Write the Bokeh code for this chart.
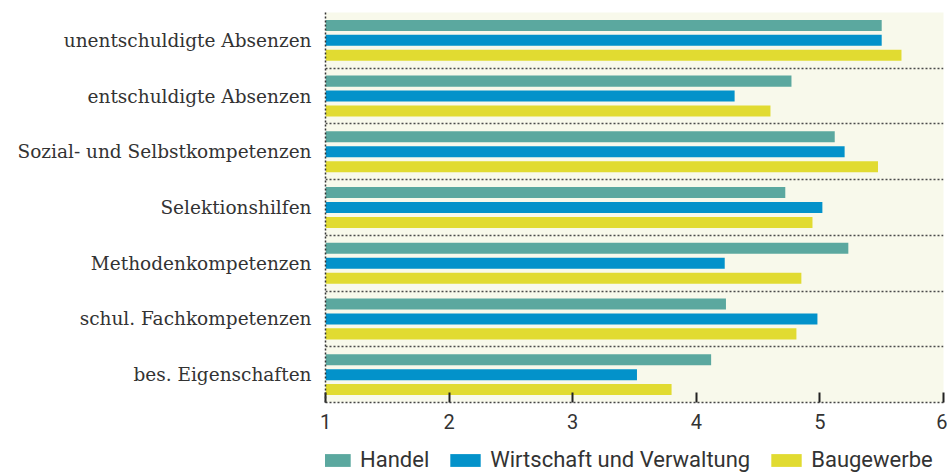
from bokeh.plotting import figure
from bokeh.layouts import column
from bokeh.models import Range1d, FixedTicker, Legend, LegendItem
from bokeh.embed import file_html
from bokeh.resources import INLINE

categories = ["unentschuldigte Absenzen", "entschuldigte Absenzen",
              "Sozial- und Selbstkompetenzen", "Selektionshilfen",
              "Methodenkompetenzen", "schul. Fachkompetenzen", "bes. Eigenschaften"]
handel = [5.50, 4.77, 5.12, 4.72, 5.23, 4.24, 4.12]
wirtschaft = [5.50, 4.31, 5.20, 5.02, 4.23, 4.98, 3.52]
bau = [5.66, 4.60, 5.47, 4.94, 4.85, 4.81, 3.80]
series_names = ["Handel", "Wirtschaft und Verwaltung", "Baugewerbe"]
series_values = [handel, wirtschaft, bau]
series_colors = ["#5BA89F", "#0392CA", "#E1DB31"]
x_ticks = [1, 2, 3, 4, 5, 6]

n = len(categories)
centers = [n - i - 0.5 for i in range(n)]

p = figure(frame_width=618, frame_height=390, output_backend="svg", toolbar_location=None,
           x_range=Range1d(1, 6), y_range=Range1d(0, n),
           min_border_left=325, min_border_right=4, min_border_top=12, min_border_bottom=36)
p.background_fill_color = "#F8F9EB"
p.border_fill_color = "white"
p.outline_line_color = None

for k, (name, vals, col) in enumerate(zip(series_names, series_values, series_colors)):
    off = (1 - k) * 0.268
    p.hbar(y=[c + off for c in centers], left=1, right=vals, height=0.198,
           color=col, line_color=None)

# grids
p.xgrid.visible = False
p.ygrid.ticker = FixedTicker(ticks=list(range(n + 1)))
p.ygrid.grid_line_color = "#4a4a4a"
p.ygrid.grid_line_dash = "2 2"
p.ygrid.grid_line_width = 1.5

# y axis
p.yaxis.ticker = FixedTicker(ticks=centers)
p.yaxis.major_label_overrides = {c: cat for c, cat in zip(centers, categories)}
p.yaxis.major_tick_line_color = None
p.yaxis.minor_tick_line_color = None
p.yaxis.axis_line_color = "#333333"
p.yaxis.axis_line_dash = "2 2"
p.yaxis.axis_line_width = 1.5
p.yaxis.major_label_text_font = "DejaVu Serif"
p.yaxis.major_label_text_font_size = "18.5px"
p.yaxis.major_label_text_color = "#333333"
p.yaxis.major_label_standoff = 8

# x axis
p.xaxis.ticker = FixedTicker(ticks=x_ticks)
p.xaxis.axis_line_color = "#444444"
p.xaxis.axis_line_dash = "2 2"
p.xaxis.axis_line_width = 1.5
p.xaxis.major_tick_in = 10
p.xaxis.major_tick_out = 0
p.xaxis.major_tick_line_color = "#222222"
p.xaxis.major_tick_line_width = 2
p.xaxis.minor_tick_line_color = None
p.xaxis.major_label_text_font = "Roboto"
p.xaxis.major_label_text_font_size = "20px"
p.xaxis.major_label_text_color = "#333333"
p.xaxis.major_label_standoff = 11

# legend strip
p2 = figure(width=947, height=36, output_backend="svg", toolbar_location=None,
            x_axis_location=None, y_axis_location=None,
            min_border_left=0, min_border_right=0, min_border_top=0, min_border_bottom=0)
p2.outline_line_color = None
p2.xgrid.visible = False
p2.ygrid.visible = False
items = []
for k, (name, vals, col) in enumerate(zip(series_names, series_values, series_colors)):
    r = p2.hbar(y=centers, left=1, right=vals, height=0.2, color=col, line_color=None,
                visible=False)
    items.append(LegendItem(label=name, renderers=[r]))

legend = Legend(items=items, orientation="horizontal", location=(-9, 2),
                glyph_width=38, glyph_height=16, label_height=16, label_standoff=6,
                spacing=17, padding=0, margin=0, border_line_color=None,
                background_fill_alpha=0, label_text_font="Roboto",
                label_text_font_size="22px", label_text_color="#333333")
p2.add_layout(legend)

layout = column(p, p2, spacing=0)
open("out.html", "w").write(file_html(layout, INLINE))
